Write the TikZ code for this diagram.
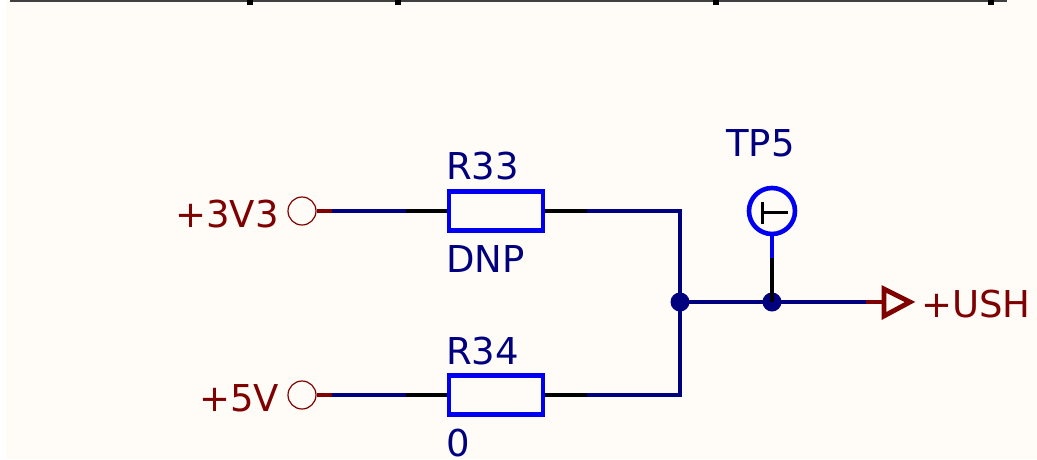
\documentclass[tikz,border=0pt]{standalone}
\usepackage{fontspec}
\setmainfont{DejaVu Sans}
\definecolor{bg}{HTML}{FFFCF8}
\definecolor{wirec}{HTML}{00007F}
\definecolor{partc}{HTML}{0000F0}
\definecolor{powerc}{HTML}{7F0000}
\tikzset{
  lbl/.style={inner sep=0pt,anchor=base west,font=\fontsize{37}{37}\selectfont},
  reflbl/.style={lbl,text=wirec},
  pwrlbl/.style={lbl,text=powerc},
  wire/.style={draw=wirec,line width=4.6pt},
  pinw/.style={draw=black,line width=4.6pt},
  pwrw/.style={draw=powerc,line width=4.6pt},
  tpw/.style={draw=partc,line width=4.6pt},
  res/.style={draw=partc,line width=4.6pt,fill=none,rectangle,minimum width=94pt,minimum height=38.5pt,inner sep=0pt},
  pwrc/.style={draw=powerc,line width=1.2pt,circle,minimum size=28pt,inner sep=0pt},
  jun/.style={fill=wirec,circle,minimum size=19pt,inner sep=0pt},
  tp/.style={draw=partc,line width=4.6pt,circle,minimum size=46pt,inner sep=0pt},
  flag/.style={draw=powerc,line width=4.8pt,line join=miter}
}
\begin{document}
\begin{tikzpicture}[x=1pt,y=-1pt]
\useasboundingbox (0,0) rectangle (1037,459);
\fill[bg] (6,0) rectangle (1037,459);
% top edge of the sheet above
\draw[black!75,line width=2.4pt] (10,1.2) -- (1007,1.2);
\foreach \tx in {250,398,716,991} \fill[black] (\tx-3,0) rectangle (\tx+3,5);

% parts
\node[res] (R33) at (496,211) {};
\node[res] (R34) at (496,395) {};
\node[pwrc] (P3) at (302,211) {};
\node[pwrc] (P5) at (302,395) {};
\node[tp] (TP) at (772,211) {};
\node[jun] (J1) at (680,302) {};
\node[jun] (J2) at (772,302) {};

% named wire points
\coordinate (a1) at (332,211);
\coordinate (a2) at (406,211);
\coordinate (b1) at (332,395);
\coordinate (b2) at (406,395);
\coordinate (c1) at (587,211);
\coordinate (c2) at (587,395);
\coordinate (d1) at (680,211);
\coordinate (d2) at (680,395);
\coordinate (e1) at (772,258);
\coordinate (f1) at (866,302);
\coordinate (f2) at (883,302);

% wires
\draw[pwrw] (P3.east) -- (a1);
\draw[wire] (a1) -- (a2);
\draw[pinw] (a2) -- (R33.west);
\draw[pinw] (R33.east) -- (c1);
\draw[wire,line join=miter] (c1) -- (d1) -- (J1.center);
\draw[pwrw] (P5.east) -- (b1);
\draw[wire] (b1) -- (b2);
\draw[pinw] (b2) -- (R34.west);
\draw[pinw] (R34.east) -- (c2);
\draw[wire,line join=miter] (c2) -- (d2) -- (J1.center);
\draw[wire] (J1.center) -- (J2.center);
\draw[wire] (J2.center) -- (f1);
\draw[pwrw] (f1) -- (f2);
\draw[pinw] (J2.center) -- (e1);
\draw[tpw] (e1) -- (TP.south);

% test point symbol
\coordinate (t1) at (762,202);
\coordinate (t2) at (762,224);
\coordinate (t3) at (762,212.5);
\coordinate (t4) at (788,212.5);
\draw[black,line width=3pt] (t1) -- (t2);
\draw[black,line width=3pt] (t3) -- (t4);

% power flag
\coordinate (g1) at (884,289);
\coordinate (g2) at (884,316);
\coordinate (g3) at (910,302);
\draw[flag] (g1) -- (g3) -- (g2) -- cycle;

% labels
\node[reflbl] (t33) at (446,179) {R33};
\node[reflbl] (tdnp) at (446,272) {DNP};
\node[reflbl] (t34) at (446,364) {R34};
\node[reflbl] (t0) at (446,456) {0};
\node[reflbl] (ttp) at (726,156) {TP5};
\node[pwrlbl] (t3v3) at (175,227) {+3V3};
\node[pwrlbl] (t5v) at (199,411) {+5V};
\node[pwrlbl] (tush) at (921,317) {+USH};
\end{tikzpicture}
\end{document}
